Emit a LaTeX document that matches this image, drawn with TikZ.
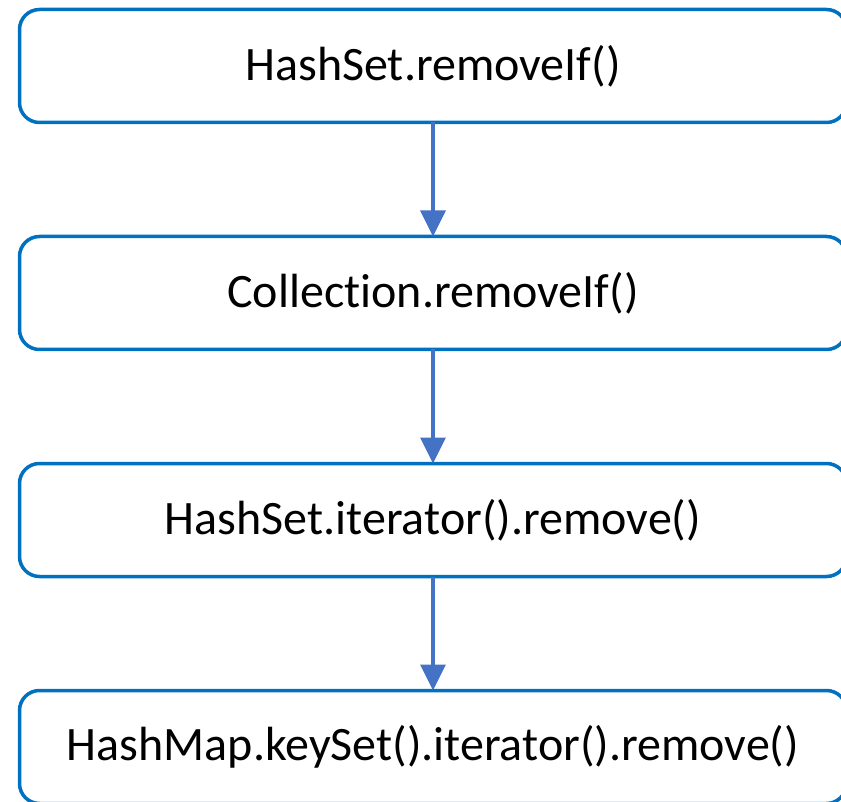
\documentclass[tikz,border=0pt]{standalone}
\usepackage{fontspec}
\setmainfont{Carlito}[Ligatures=NoCommon]
\usetikzlibrary{positioning,arrows.meta}
\definecolor{boxblue}{HTML}{0070C0}
\definecolor{arrowblue}{HTML}{4472C4}
\begin{document}
\begin{tikzpicture}[
  callbox/.style={draw=boxblue, line width=3.5pt, rounded corners=20pt, minimum width=827pt, minimum height=113pt, outer sep=0pt, font=\fontsize{48}{56}\selectfont, text=black},
  callarrow/.style={draw=arrowblue, line width=3.5pt, -{Triangle[width=25pt,length=26pt]}},
  node distance=114pt
]
  \clip (0,0) rectangle (841pt,-802pt);
  \node[callbox] (set) at (433pt,-66pt) {HashSet.removeIf()};
  \node[callbox, below=of set] (coll) {Collection.removeIf()};
  \node[callbox, below=of coll] (iter) {HashSet.iterator().remove()};
  \node[callbox, below=of iter] (map) {HashMap.keySet().iterator().remove()};
  \draw[callarrow] (set) -- (coll);
  \draw[callarrow] (coll) -- (iter);
  \draw[callarrow] (iter) -- (map);
\end{tikzpicture}
\end{document}
